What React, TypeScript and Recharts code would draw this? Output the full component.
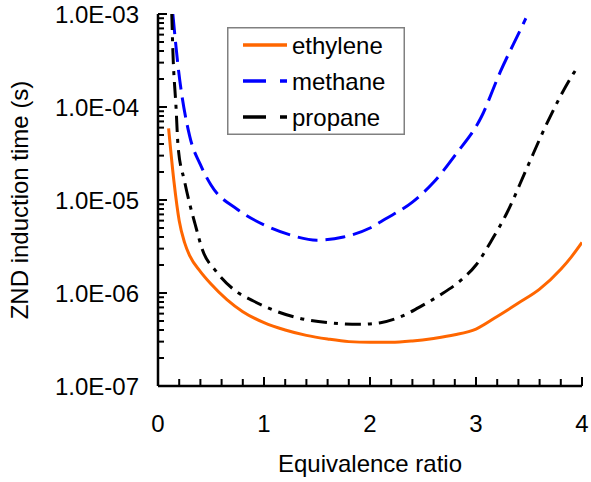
import React from "react";
import { LineChart, Line, XAxis, YAxis, Legend } from "recharts";

const ethyleneX = [0.1, 0.15, 0.2, 0.25, 0.3, 0.4, 0.5, 0.65, 0.8, 1.0, 1.2, 1.4, 1.6, 1.8, 2.0, 2.2, 2.4, 2.6, 2.8, 3.0, 3.2, 3.4, 3.6, 3.8, 3.9, 4.0];
const ethyleneY = [5.9e-5, 1.6e-5, 6e-6, 3.5e-6, 2.5e-6, 1.7e-6, 1.25e-6, 8.5e-7, 6.3e-7, 4.8e-7, 4.0e-7, 3.5e-7, 3.2e-7, 3.0e-7, 2.95e-7, 2.95e-7, 3.05e-7, 3.25e-7, 3.55e-7, 4.1e-7, 5.6e-7, 7.8e-7, 1.1e-6, 1.8e-6, 2.45e-6, 3.5e-6];

const methaneX = [0.14, 0.19, 0.3, 0.4, 0.5, 0.75, 1.0, 1.25, 1.5, 1.75, 2.0, 2.14, 2.4, 2.6, 2.8, 3.05, 3.23, 3.44, 3.47];
const methaneY = [1.0e-3, 2.7e-4, 4.8e-5, 2.4e-5, 1.45e-5, 7.9e-6, 5.4e-6, 4.2e-6, 3.7e-6, 4.0e-6, 5.0e-6, 6.2e-6, 9.5e-6, 1.55e-5, 3.0e-5, 7.8e-5, 2.4e-4, 7.6e-4, 9.0e-4];

const propaneX = [0.13, 0.14, 0.17, 0.19, 0.25, 0.3, 0.35, 0.42, 0.55, 0.71, 0.9, 1.08, 1.32, 1.6, 1.9, 2.1, 2.28, 2.5, 2.66, 2.85, 3.0, 3.16, 3.29, 3.48, 3.67, 3.92, 3.97];
const propaneY = [1.0e-3, 4.1e-4, 1.0e-4, 3.7e-5, 1.6e-5, 9e-6, 5.5e-6, 2.9e-6, 1.7e-6, 1.1e-6, 8.2e-7, 6.6e-7, 5.4e-7, 4.8e-7, 4.6e-7, 4.8e-7, 5.5e-7, 7.4e-7, 9.5e-7, 1.35e-6, 2.0e-6, 3.9e-6, 7.2e-6, 2.2e-5, 6.7e-5, 2.3e-4, 2.8e-4];

const seriesNames = ["ethylene", "methane", "propane"];
const seriesColors = ["#FF6600", "#0000FF", "#000000"];
const seriesDash = ["", "20 8", "16 7 4 7"];

const xMajorTicks = [0, 1, 2, 3, 4];
const xTickLabels = ["0", "1", "2", "3", "4"];
const yMajorTicks = [1e-7, 1e-6, 1e-5, 1e-4, 1e-3];
const yTickLabels = ["1.0E-07", "1.0E-06", "1.0E-05", "1.0E-04", "1.0E-03"];

const xAllTicks: number[] = [];
for (let i = 0; i <= 20; i++) xAllTicks.push(Math.round(i * 2) / 10);
const yAllTicks: number[] = [];
for (let e = -7; e < -3; e++) {
  for (let m = 1; m <= 9; m++) yAllTicks.push(m * Math.pow(10, e));
}
yAllTicks.push(1e-3);

const toData = (xs: number[], ys: number[]) => xs.map((x, i) => ({ x, y: ys[i] }));
const datasets = [toData(ethyleneX, ethyleneY), toData(methaneX, methaneY), toData(propaneX, propaneY)];

const FONT = "'Liberation Sans', Arial, sans-serif";

const XTick = (props: any) => {
  const { x, y, payload } = props;
  const v = payload.value;
  const idx = xMajorTicks.findIndex((t) => Math.abs(t - v) < 1e-6);
  const major = idx >= 0;
  return (
    <g>
      <line x1={x} x2={x} y1={y} y2={y - (major ? 9 : 7)} stroke="#000" strokeWidth={2} />
      {major && (
        <text x={x} y={y + 46} textAnchor="middle" fontSize={24} fontFamily={FONT} fill="#000">
          {xTickLabels[idx]}
        </text>
      )}
    </g>
  );
};

const YTick = (props: any) => {
  const { x, y, payload } = props;
  const v = payload.value;
  const idx = yMajorTicks.findIndex((t) => Math.abs(t - v) / t < 1e-6);
  const major = idx >= 0;
  return (
    <g>
      <line x1={x} x2={x + (major ? 9 : 6)} y1={y} y2={y} stroke="#000" strokeWidth={2} />
      {major && (
        <text x={x - 19} y={y + 9} textAnchor="end" fontSize={24} fontFamily={FONT} fill="#000">
          {yTickLabels[idx]}
        </text>
      )}
    </g>
  );
};

const LegendBox = () => (
  <svg width={178} height={108} style={{ display: "block" }}>
    <rect x={0.75} y={0.75} width={176.5} height={106.5} fill="#fff" stroke="#808080" strokeWidth={1.5} />
    {seriesNames.map((name, i) => {
      const cy = 18 + i * 36;
      return (
        <g key={name}>
          <line x1={16} x2={60} y1={cy} y2={cy} stroke={seriesColors[i]} strokeWidth={3.5}
            strokeDasharray={i === 0 ? undefined : "23 14 8 10"} />
          <text x={65} y={cy + 9} fontSize={24} fontFamily={FONT} fill="#000">{name}</text>
        </g>
      );
    })}
  </svg>
);

export default function App() {
  return (
    <div style={{ position: "absolute", left: 0, top: 0, background: "#fff" }}>
      <LineChart width={591} height={482} margin={{ top: 14, right: 9, bottom: 0, left: 0 }}>
        <XAxis
          type="number"
          dataKey="x"
          domain={[0, 4]}
          ticks={xAllTicks}
          interval={0}
          allowDataOverflow
          height={96}
          tickSize={0}
          tickMargin={0}
          tickLine={false}
          axisLine={{ stroke: "#000", strokeWidth: 2.5 }}
          tick={<XTick />}
          label={{ value: "Equivalence ratio", position: "insideBottom", offset: 10, fontSize: 24, fontFamily: FONT, fill: "#000" }}
        />
        <YAxis
          type="number"
          dataKey="y"
          scale="log"
          domain={[1e-7, 1e-3]}
          ticks={yAllTicks}
          interval={0}
          allowDataOverflow
          width={158}
          tickSize={0}
          tickMargin={0}
          tickLine={false}
          axisLine={{ stroke: "#000", strokeWidth: 2.5 }}
          tick={<YTick />}
          label={{ value: "ZND induction time (s)", angle: -90, position: "insideLeft", offset: 0, dx: 19, fontSize: 24, fontFamily: FONT, fill: "#000", style: { textAnchor: "middle" } }}
        />
        <Legend
          layout="vertical"
          align="center"
          verticalAlign="middle"
          content={<LegendBox />}
          wrapperStyle={{ position: "absolute", left: 227, top: 27, width: 178, height: 108 }}
        />
        {datasets.map((d, i) => (
          <Line
            key={seriesNames[i]}
            data={d}
            dataKey="y"
            name={seriesNames[i]}
            type="monotone"
            stroke={seriesColors[i]}
            strokeWidth={3}
            strokeDasharray={seriesDash[i] || undefined}
            dot={false}
            activeDot={false}
            isAnimationActive={false}
          />
        ))}
      </LineChart>
    </div>
  );
}
